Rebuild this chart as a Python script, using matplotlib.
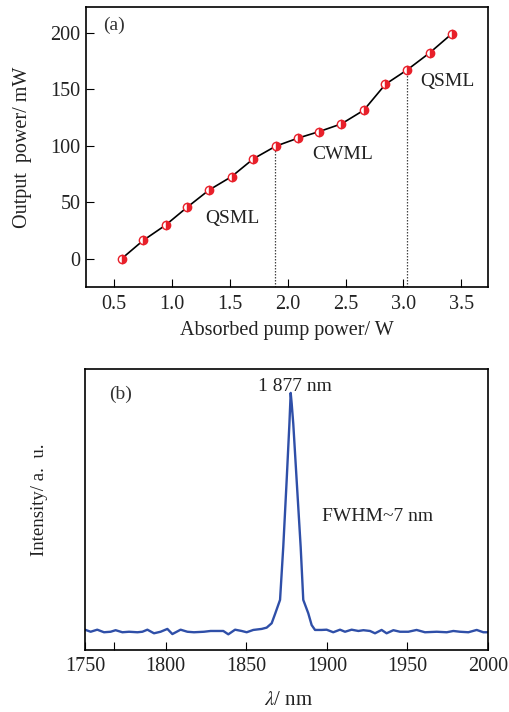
import matplotlib
matplotlib.use("Agg")
import matplotlib.pyplot as plt
import numpy as np

plt.rcParams['font.family'] = ['Liberation Serif', 'DejaVu Serif']
plt.rcParams['mathtext.fontset'] = 'stix'

# Panel (a) data
pump_power = [0.567, 0.753, 0.947, 1.134, 1.321, 1.517, 1.704, 1.897, 2.088,
              2.274, 2.465, 2.658, 2.845, 3.035, 3.229, 3.419]
output_power = [0.0, 16.2, 29.8, 45.7, 60.8, 72.8, 88.5, 99.7, 106.8,
                112.7, 119.5, 131.6, 154.6, 167.5, 182.6, 199.4]
boundary_x = [1.889, 3.03]
boundary_y = [99.7, 167.5]
a_xticks = [0.5, 1.0, 1.5, 2.0, 2.5, 3.0, 3.5]
a_yticks = [0, 50, 100, 150, 200]

# Panel (b) data
wavelength = [1750.4, 1753.5, 1757.6, 1761.8, 1765.9, 1769.0, 1773.2, 1777.3,
              1782.5, 1785.6, 1788.7, 1792.8, 1796.9, 1801.1, 1804.2, 1809.3,
              1813.5, 1817.6, 1823.8, 1827.9, 1832.1, 1835.8, 1838.9, 1843.1,
              1847.2, 1850.3, 1854.4, 1859.6, 1862.7, 1865.8, 1867.9, 1871.0,
              1873.0, 1875.1, 1876.8, 1877.6, 1878.2, 1879.2, 1881.3, 1883.8,
              1885.4, 1888.5, 1890.6, 1892.7, 1896.8, 1899.9, 1904.0, 1908.2,
              1911.3, 1915.4, 1919.6, 1922.7, 1926.8, 1929.9, 1934.0, 1937.1,
              1941.3, 1945.4, 1950.6, 1955.7, 1960.9, 1968.2, 1974.4, 1978.5,
              1982.6, 1987.8, 1993.0, 1997.1, 2000.0]
intensity = [0.078, 0.071, 0.079, 0.069, 0.071, 0.077, 0.069, 0.071,
             0.069, 0.071, 0.079, 0.065, 0.071, 0.082, 0.062, 0.079,
             0.071, 0.069, 0.071, 0.074, 0.074, 0.074, 0.061, 0.079,
             0.074, 0.069, 0.078, 0.082, 0.087, 0.104, 0.140, 0.195,
             0.402, 0.660, 0.880, 1.000, 0.960, 0.880, 0.660, 0.400,
             0.195, 0.143, 0.097, 0.078, 0.078, 0.079, 0.069, 0.079,
             0.071, 0.079, 0.074, 0.077, 0.074, 0.065, 0.078, 0.065,
             0.077, 0.071, 0.071, 0.078, 0.069, 0.071, 0.069, 0.074,
             0.071, 0.069, 0.078, 0.069, 0.069]
b_xticks = [1750, 1800, 1850, 1900, 1950, 2000]

fig = plt.figure(figsize=(5.10, 7.12), dpi=100)

fs = 14.5
afs = 14
tc = '#222222'
# ---- Panel (a)
ax1 = fig.add_axes([86/510, 1-287/712, 402/510, 280/712])
ax1.plot(pump_power, output_power, color='black', lw=1.2, zorder=2)
ax1.plot(pump_power, output_power, ls='none', marker='o', ms=6,
         fillstyle='right', markerfacecolor='#e8202a', markerfacecoloralt='white',
         markeredgecolor='#e8202a', markeredgewidth=1.0, zorder=3)
for bx, by in zip(boundary_x, boundary_y):
    ax1.plot([bx, bx], [-25, by], color='#444444', lw=0.9, ls=(0, (1.2, 1.2)), zorder=1)
ax1.set_xlim(0.26, 3.73)
ax1.set_ylim(-25, 223)
ax1.set_xticks(a_xticks)
ax1.set_xticklabels([f"{v:.1f}" for v in a_xticks])
ax1.set_yticks(a_yticks)
ax1.tick_params(axis='x', direction='in', length=6, width=0.8, labelsize=fs, pad=6,
                labelcolor=tc)
ax1.tick_params(axis='y', direction='in', length=6, width=0.8, labelsize=fs, pad=4,
                labelcolor=tc)
ax1.set_xlabel('Absorbed pump power/ W', fontsize=14.5, color=tc)
ax1.xaxis.set_label_coords(0.5, -0.154)
ax1.xaxis.label.set_va('center')
ax1.set_ylabel('Output  power/ mW', fontsize=14.5, color=tc)
ax1.yaxis.set_label_coords(-0.159, 0.5)
ax1.yaxis.label.set_va('center')
ax1.text(0.042, 0.936, '(a)', transform=ax1.transAxes, fontsize=afs, color='#333333',
         va='center')
ax1.text(3.145, 156.6, 'QSML', fontsize=afs, color=tc, va='center')
ax1.text(2.21, 92, 'CWML', fontsize=afs, color=tc, va='center')
ax1.text(1.287, 36, 'QSML', fontsize=afs, color=tc, va='center')
for s in ax1.spines.values():
    s.set_linewidth(1.2)

# ---- Panel (b)
ax2 = fig.add_axes([85/510, 1-650/712, 403/510, 281/712])
ax2.plot(wavelength, intensity, color='#2f4fa8', lw=1.7)
ax2.set_xlim(1750, 2000)
ax2.set_ylim(0, 1.093)
ax2.set_xticks(b_xticks)
ax2.set_xticks([1768], minor=True)
ax2.set_yticks([])
ax2.tick_params(axis='x', which='both', direction='in', length=6, width=0.8,
                labelsize=fs, pad=5, labelcolor=tc)
ax2.set_xlabel(r'$\lambda$/ nm', fontsize=15, color=tc)
ax2.xaxis.set_label_coords(0.504, -0.178)
ax2.xaxis.label.set_va('center')
ax2.set_ylabel('Intensity/ a.  u.', fontsize=13.5, color=tc)
ax2.yaxis.set_label_coords(-0.112, 0.534)
ax2.yaxis.label.set_va('center')
ax2.text(0.06, 0.91, '(b)', transform=ax2.transAxes, fontsize=afs, color='#333333',
         va='center')
ax2.text(1880.5, 1.025, '1 877 nm', fontsize=afs, ha='center', va='center', color=tc)
ax2.text(1897, 0.52, 'FWHM~7 nm', fontsize=afs, ha='left', va='center', color=tc)
for s in ax2.spines.values():
    s.set_linewidth(1.2)

fig.savefig('out.png', dpi=100)
